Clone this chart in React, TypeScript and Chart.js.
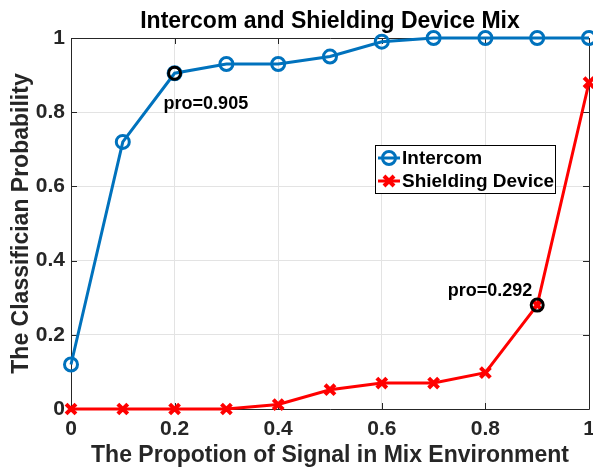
import React, { useEffect, useRef } from "react";
import { Chart, registerables } from "chart.js";

Chart.register(...registerables);

const proportion = [0, 0.1, 0.2, 0.3, 0.4, 0.5, 0.6, 0.7, 0.8, 0.9, 1.0];
const intercom = [0.12, 0.72, 0.905, 0.93, 0.93, 0.95, 0.99, 1, 1, 1, 1];
const shielding = [0, 0, 0, 0, 0.012, 0.052, 0.07, 0.07, 0.098, 0.28, 0.88];
const tickValues = [0, 0.2, 0.4, 0.6, 0.8, 1];
const tickLabels = ["0", "0.2", "0.4", "0.6", "0.8", "1"];
const highlightX = [0.2, 0.9];
const highlightY = [0.905, 0.28];
const highlightLabels = ["pro=0.905", "pro=0.292"];
const seriesNames = ["Intercom", "Shielding Device"];
const titleText = "Intercom and Shielding Device Mix";
const xTitle = "The Propotion of Signal in Mix Environment";
const yTitle = "The Classifician Probability";

const FONT = '"Liberation Sans", Arial, Helvetica, sans-serif';
const BLUE = "#0072BD";
const RED = "#FF0000";
const AXIS = "#262626";
const GRID = "#e3e3e3";

export default function App() {
  const ref = useRef<HTMLCanvasElement | null>(null);

  useEffect(() => {
    const canvas = ref.current;
    if (!canvas) return;

    const framePlugin = {
      id: "frame",
      beforeDatasetsDraw(chart: any) {
        const { ctx, chartArea } = chart;
        const { left, right, top, bottom } = chartArea;
        const xs = chart.scales.x;
        const ys = chart.scales.y;
        ctx.save();
        ctx.strokeStyle = AXIS;
        ctx.lineWidth = 1;
        ctx.beginPath();
        const tl = 6;
        tickValues.forEach((v) => {
          const px = Math.round(xs.getPixelForValue(v)) + 0.5;
          ctx.moveTo(px, bottom);
          ctx.lineTo(px, bottom - tl);
          ctx.moveTo(px, top);
          ctx.lineTo(px, top + tl);
          const py = Math.round(ys.getPixelForValue(v)) + 0.5;
          ctx.moveTo(left, py);
          ctx.lineTo(left + tl, py);
          ctx.moveTo(right, py);
          ctx.lineTo(right - tl, py);
        });
        ctx.rect(Math.round(left) + 0.5, Math.round(top) + 0.5, Math.round(right - left), Math.round(bottom - top));
        ctx.stroke();
        ctx.restore();
      },
    };

    const overlayPlugin = {
      id: "overlay",
      afterDraw(chart: any) {
        const { ctx, chartArea } = chart;
        const { left, right } = chartArea;
        const xs = chart.scales.x;
        const ys = chart.scales.y;
        ctx.save();
        // Title
        ctx.fillStyle = "#000";
        ctx.font = `bold 23px ${FONT}`;
        ctx.textAlign = "center";
        ctx.textBaseline = "alphabetic";
        ctx.fillText(titleText, (left + right) / 2, 28);

        // Annotations
        ctx.font = `bold 18px ${FONT}`;
        ctx.fillStyle = "#000";
        {
          const px = xs.getPixelForValue(highlightX[0]);
          const py = ys.getPixelForValue(highlightY[0]);
          ctx.textAlign = "left";
          ctx.fillText(highlightLabels[0], px - 11, py + 36);
        }
        {
          const px = xs.getPixelForValue(highlightX[1]);
          const py = ys.getPixelForValue(highlightY[1]);
          ctx.textAlign = "right";
          ctx.fillText(highlightLabels[1], px - 5, py - 9);
        }

        // Legend
        const bx = 375.5, by = 145.5, bw = 180, bh = 48;
        ctx.fillStyle = "#fff";
        ctx.fillRect(bx, by, bw, bh);
        ctx.strokeStyle = "#000";
        ctx.lineWidth = 1;
        ctx.strokeRect(bx, by, bw, bh);
        const rows = [158, 181];
        const colors = [BLUE, RED];
        ctx.font = `bold 19px ${FONT}`;
        ctx.textBaseline = "middle";
        ctx.textAlign = "left";
        rows.forEach((ry, i) => {
          ctx.strokeStyle = colors[i];
          ctx.lineWidth = 3;
          ctx.beginPath();
          ctx.moveTo(378, ry);
          ctx.lineTo(400, ry);
          ctx.stroke();
          const cx = 389;
          if (i === 0) {
            ctx.beginPath();
            ctx.arc(cx, ry, 6.5, 0, Math.PI * 2);
            ctx.stroke();
          } else {
            ctx.lineWidth = 4;
            const d = 5;
            ctx.beginPath();
            ctx.moveTo(cx - d, ry - d);
            ctx.lineTo(cx + d, ry + d);
            ctx.moveTo(cx - d, ry + d);
            ctx.lineTo(cx + d, ry - d);
            ctx.stroke();
          }
          ctx.fillStyle = "#000";
          ctx.fillText(seriesNames[i], 402, ry + 1);
        });
        ctx.restore();
      },
    };

    const chart = new Chart(canvas, {
      type: "line",
      data: {
        datasets: [
          {
            label: "highlight",
            data: highlightX.map((x, i) => ({ x, y: highlightY[i] })),
            showLine: false,
            pointStyle: "circle",
            pointRadius: 6,
            pointBorderWidth: 3,
            pointBorderColor: "#000",
            pointBackgroundColor: "rgba(0,0,0,0)",
            borderColor: "#000",
            order: -1,
            clip: false as any,
          },
          {
            label: seriesNames[0],
            data: proportion.map((x, i) => ({ x, y: intercom[i] })),
            borderColor: BLUE,
            borderWidth: 3,
            pointStyle: "circle",
            pointRadius: 6.5,
            pointBorderWidth: 3,
            pointBorderColor: BLUE,
            pointBackgroundColor: "rgba(0,0,0,0)",
            tension: 0,
            clip: false as any,
            order: 0,
          },
          {
            label: seriesNames[1],
            data: proportion.map((x, i) => ({ x, y: shielding[i] })),
            borderColor: RED,
            borderWidth: 3,
            pointStyle: "crossRot",
            pointRadius: 7,
            pointBorderWidth: 4,
            pointBorderColor: RED,
            pointBackgroundColor: RED,
            tension: 0,
            clip: false as any,
            order: 1,
          },
        ],
      },
      options: {
        responsive: false,
        animation: false,
        devicePixelRatio: 1,
        layout: { autoPadding: false, padding: { left: 0, right: 4, top: 38, bottom: 0 } },
        plugins: {
          legend: { display: false },
          tooltip: { enabled: false },
          title: { display: false },
        },
        scales: {
          x: {
            type: "linear",
            min: 0,
            max: 1,
            afterBuildTicks: (s: any) => {
              s.ticks = tickValues.map((v) => ({ value: v }));
            },
            afterFit: (s: any) => {
              s.height = 61;
              s.paddingLeft = 0;
              s.paddingRight = 0;
            },
            ticks: {
              autoSkip: false,
              maxRotation: 0,
              padding: 8,
              color: AXIS,
              font: { family: FONT, size: 21, weight: "bold" },
              callback: (v: any, i: number) => tickLabels[i],
            },
            grid: { color: GRID, drawTicks: false },
            border: { display: false },
            title: {
              display: true,
              text: xTitle,
              color: AXIS,
              font: { family: FONT, size: 23, weight: "bold" },
              padding: { top: 0, bottom: 1 },
            },
          },
          y: {
            type: "linear",
            min: 0,
            max: 1,
            afterBuildTicks: (s: any) => {
              s.ticks = tickValues.map((v) => ({ value: v }));
            },
            afterFit: (s: any) => {
              s.width = 71;
              s.paddingTop = 0;
              s.paddingBottom = 0;
            },
            ticks: {
              autoSkip: false,
              padding: 6,
              color: AXIS,
              font: { family: FONT, size: 21, weight: "bold" },
              callback: (v: any, i: number) => tickLabels[i],
            },
            grid: { color: GRID, drawTicks: false },
            border: { display: false },
            title: {
              display: true,
              text: yTitle,
              color: AXIS,
              font: { family: FONT, size: 23, weight: "bold" },
              padding: { top: 8, bottom: 0 },
            },
          },
        },
      },
      plugins: [framePlugin, overlayPlugin],
    } as any);

    return () => chart.destroy();
  }, []);

  return (
    <div style={{ position: "absolute", left: 0, top: 0, width: 593, height: 470, background: "#fff" }}>
      <canvas ref={ref} width={593} height={470} />
    </div>
  );
}
